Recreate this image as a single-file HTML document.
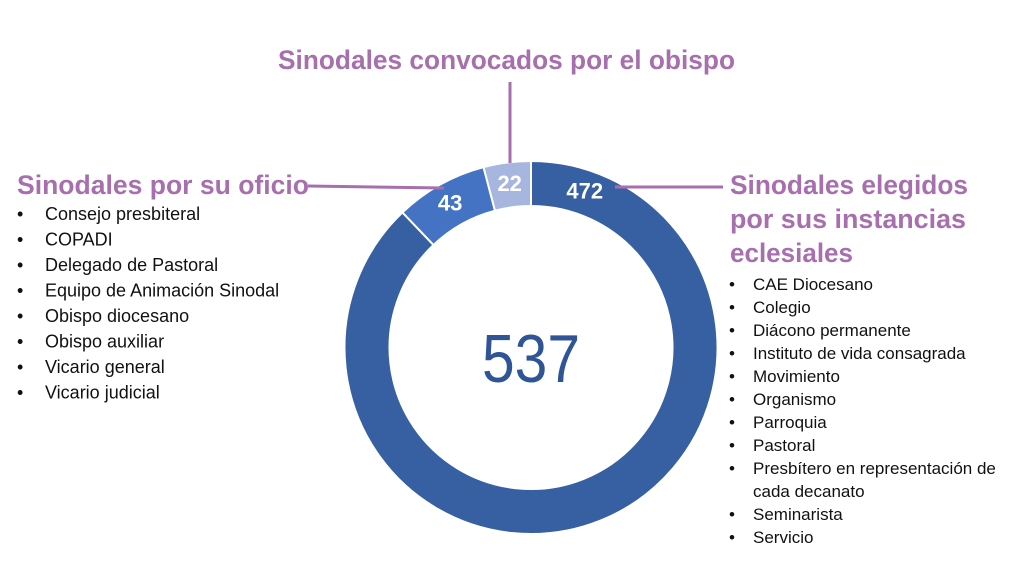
<!DOCTYPE html>
<html><head><meta charset="utf-8"><style>
html,body{margin:0;padding:0;background:#fff;}
svg{display:block;}
</style></head><body>
<svg width="1024" height="576" viewBox="0 0 1024 576" xmlns="http://www.w3.org/2000/svg" font-family="'Liberation Sans', sans-serif">
<g id="ring"></g>
<g id="labels"></g>
<text x="531" y="382" text-anchor="middle" font-size="68" fill="#2f5597" textLength="98" lengthAdjust="spacingAndGlyphs">537</text>

<g stroke="#a86fae" stroke-width="3" fill="none">
<line x1="510" y1="82" x2="510" y2="163"/>
<line x1="308" y1="186" x2="444" y2="188"/>
<line x1="615" y1="187" x2="723" y2="187"/>
</g>

<g fill="#a86fae" font-weight="bold" font-size="27">
<text x="278" y="69" textLength="457" lengthAdjust="spacingAndGlyphs">Sinodales convocados por el obispo</text>
<text x="17" y="194" textLength="292" lengthAdjust="spacingAndGlyphs">Sinodales por su oficio</text>
<text x="730" y="194" textLength="238" lengthAdjust="spacingAndGlyphs">Sinodales elegidos</text>
<text x="730" y="228" textLength="236" lengthAdjust="spacingAndGlyphs">por sus instancias</text>
<text x="730" y="262" textLength="123" lengthAdjust="spacingAndGlyphs">eclesiales</text>
</g>

<g id="leftList" font-size="18" fill="#111"></g>
<g id="rightList" font-size="17" fill="#111"></g>

<script>
const categories = ["Sinodales elegidos", "Sinodales por su oficio", "Sinodales convocados"];
const values = [472, 43, 22];
const colors = ["#3760a3", "#4573c4", "#a7b6de"];
const leftItems = ["Consejo presbiteral","COPADI","Delegado de Pastoral","Equipo de Animación Sinodal","Obispo diocesano","Obispo auxiliar","Vicario general","Vicario judicial"];
const rightItems = ["CAE Diocesano","Colegio","Diácono permanente","Instituto de vida consagrada","Movimiento","Organismo","Parroquia","Pastoral","Presbítero en representación de","cada decanato","Seminarista","Servicio"];

const NS = "http://www.w3.org/2000/svg";
const cx = 531, cy = 347.5, ro = 186.5, ri = 141.5;
const total = values.reduce((a,b)=>a+b,0);
function pt(r, a){ return [cx + r*Math.sin(a), cy - r*Math.cos(a)]; }
const ring = document.getElementById('ring');
const labels = document.getElementById('labels');
let acc = 0;
values.forEach((v,i)=>{
  const a0 = acc/total*2*Math.PI, a1 = (acc+v)/total*2*Math.PI;
  acc += v;
  const large = (a1-a0) > Math.PI ? 1 : 0;
  const p0=pt(ro,a0), p1=pt(ro,a1), p2=pt(ri,a1), p3=pt(ri,a0);
  const path = document.createElementNS(NS,'path');
  path.setAttribute('d',`M${p0[0]},${p0[1]} A${ro},${ro} 0 ${large} 1 ${p1[0]},${p1[1]} L${p2[0]},${p2[1]} A${ri},${ri} 0 ${large} 0 ${p3[0]},${p3[1]} Z`);
  path.setAttribute('fill',colors[i]);
  path.setAttribute('stroke','#fff');
  path.setAttribute('stroke-width','2');
  
  
  ring.appendChild(path);
  let la;
  if (i===0) la = a0 + 0.33; else la = (a0+a1)/2;
  const lp = pt((ro+ri)/2 + 2, la);
  const t = document.createElementNS(NS,'text');
  t.setAttribute('x', lp[0]); t.setAttribute('y', lp[1]+8);
  t.setAttribute('text-anchor','middle');
  t.setAttribute('fill','#fff');
  t.setAttribute('font-weight','bold');
  t.setAttribute('font-size','22');
  t.textContent = v;
  
  
  labels.appendChild(t);
});

const ll = document.getElementById('leftList');
leftItems.forEach((s,i)=>{
  const y = 220 + i*25.5;
  const b = document.createElementNS(NS,'text');
  b.setAttribute('x',17); b.setAttribute('y',y);
  b.textContent='•';
  
  
  ll.appendChild(b);
  const t = document.createElementNS(NS,'text');
  t.setAttribute('x',45); t.setAttribute('y',y);
  t.textContent=s;
  
  
  ll.appendChild(t);
});
const rl = document.getElementById('rightList');
rightItems.forEach((s,i)=>{
  const y = 290 + i*23;
  if (i!==9) {
    const b = document.createElementNS(NS,'text');
    b.setAttribute('x',729); b.setAttribute('y',y);
    b.textContent='•';
    
    
    rl.appendChild(b);
  }
  const t = document.createElementNS(NS,'text');
  t.setAttribute('x',753); t.setAttribute('y',y);
  t.textContent=s;
  
  
  rl.appendChild(t);
});
</script>
</svg>
</body></html>
